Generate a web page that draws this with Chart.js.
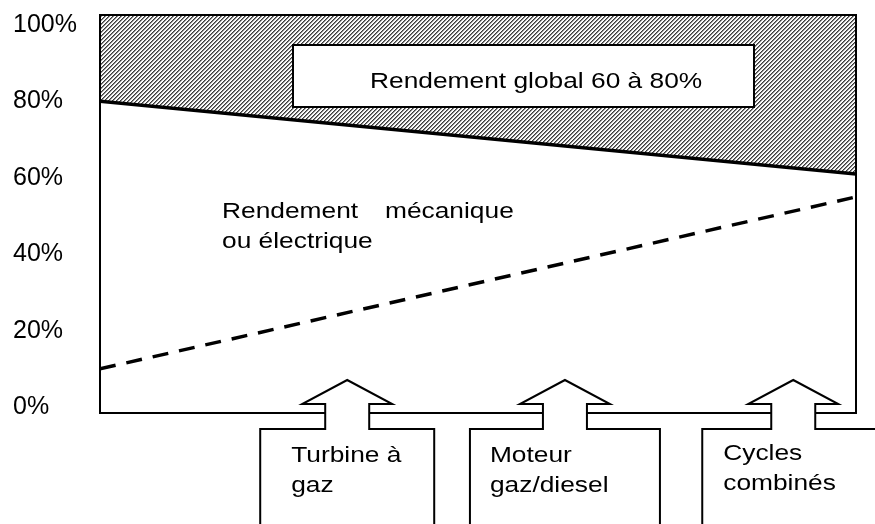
<!DOCTYPE html>
<html>
<head>
<meta charset="utf-8">
<script src="https://cdn.jsdelivr.net/npm/chart.js@4/dist/chart.umd.min.js"></script>
<style>
  html, body { margin: 0; padding: 0; background: #fff; }
  canvas { display: block; }
</style>
</head>
<body>
<canvas id="rendement" width="875" height="524"></canvas>
<script>
// Données
const xRange = [0, 100];                 // début / fin de l'axe horizontal
const rendementGlobal = [80, 61];        // ligne pleine (%)
const rendementMeca = [10, 55];          // ligne pointillée (%)
const yTicks = [0, 20, 40, 60, 80, 100];
const technoLabels = [['Turbine à', 'gaz'], ['Moteur', 'gaz/diesel'], ['Cycles', 'combinés']];
const technoPositions = [32.7, 61.5, 91.7];
const boxTitle = 'Rendement global 60 à 80%';
const mecaLabel = [['Rendement', 'mécanique'], ['ou électrique']];

const FONT = '"Liberation Sans", Arial, sans-serif';

// motif hachuré ////
function hatchPattern(ctx) {
    let n = 4;
    let c = document.createElement('canvas');
    c.width = n; c.height = n;
    let g = c.getContext('2d');
    let img = g.createImageData(n, n);
    const shades = [60, 135, 245, 255];
    for (let py = 0; py < n; py++) {
        for (let px = 0; px < n; px++) {
            let v = shades[(px + py) % n];
            let i = (py * n + px) * 4;
            img.data[i] = v; img.data[i + 1] = v; img.data[i + 2] = v; img.data[i + 3] = 255;
        }
    }
    g.putImageData(img, 0, 0);
    return ctx.createPattern(c, 'repeat');
}

function stretchText(ctx, s, px, py) {
    ctx.save();
    ctx.translate(px, py);
    ctx.scale(1.17, 1);
    ctx.fillText(s, 0, 0);
    ctx.restore();
}

const decorations = {
    id: 'decorations',
    afterDatasetsDraw(chart) {
        const { ctx, chartArea: a, scales: { x } } = chart;
        ctx.save();
        ctx.strokeStyle = '#000';
        ctx.fillStyle = '#000';
        ctx.lineWidth = 2;
        ctx.lineJoin = 'miter';
        ctx.strokeRect(a.left, a.top, a.width, a.height);

        // cadre "Rendement global"
        ctx.fillStyle = '#fff';
        ctx.fillRect(293, 45, 461, 62);
        ctx.strokeRect(293, 45, 461, 62);
        ctx.fillStyle = '#000';
        ctx.font = '22.5px ' + FONT;
        ctx.textBaseline = 'alphabetic';
        stretchText(ctx, boxTitle, 370, 88);

        // texte rendement mécanique
        stretchText(ctx, mecaLabel[0][0], 222, 218);
        stretchText(ctx, mecaLabel[0][1], 385, 218);
        stretchText(ctx, mecaLabel[1][0], 222, 248);

        // flèches et cadres du bas
        const boxLeft = [87, 95, 91];
        const boxRight = [87, 95, 200];
        const textOff = [31, 20, 21];
        const base = [462, 462, 460];
        technoPositions.forEach((v, i) => {
            const cx = x.getPixelForValue(v);
            const b = a.bottom;
            ctx.beginPath();
            ctx.moveTo(cx - boxLeft[i], 540);
            ctx.lineTo(cx - boxLeft[i], b + 16);
            ctx.lineTo(cx - 22, b + 16);
            ctx.lineTo(cx - 22, b - 9);
            ctx.lineTo(cx - 45, b - 9);
            ctx.lineTo(cx, b - 33);
            ctx.lineTo(cx + 45, b - 9);
            ctx.lineTo(cx + 22, b - 9);
            ctx.lineTo(cx + 22, b + 16);
            ctx.lineTo(cx + boxRight[i], b + 16);
            ctx.lineTo(cx + boxRight[i], 540);
            ctx.fillStyle = '#fff';
            ctx.fill();
            ctx.stroke();
            ctx.fillStyle = '#000';
            const tx = cx - boxLeft[i] + textOff[i];
            stretchText(ctx, technoLabels[i][0], tx, base[i]);
            stretchText(ctx, technoLabels[i][1], tx, base[i] + 30);
        });
        ctx.restore();
    }
};

let canvas = document.getElementById('rendement');
let ctx = canvas.getContext('2d');

new Chart(ctx, {
    type: 'line',
    data: {
        datasets: [{
            label: 'Rendement global',
            data: rendementGlobal.map((v, i) => ({ x: xRange[i], y: v })),
            borderColor: '#000',
            borderWidth: 3.5,
            pointRadius: 0,
            fill: 'end',
            backgroundColor: hatchPattern(ctx)
        }, {
            label: 'Rendement mécanique ou électrique',
            data: rendementMeca.map((v, i) => ({ x: xRange[i], y: v })),
            borderColor: '#000',
            borderWidth: 3.5,
            borderDash: [16, 11],
            pointRadius: 0,
            fill: false
        }]
    },
    options: {
        responsive: false,
        animation: false,
        devicePixelRatio: 1,
        layout: { padding: { left: 13, top: 11, right: 19, bottom: 111 } },
        plugins: {
            legend: { display: false },
            tooltip: { enabled: false }
        },
        scales: {
            x: {
                type: 'linear',
                min: xRange[0],
                max: xRange[1],
                display: false
            },
            y: {
                type: 'linear',
                min: -1.55,
                max: 102.6,
                afterBuildTicks: s => { s.ticks = yTicks.map(v => ({ value: v })); },
                afterFit: s => { s.width = 87; },
                grid: { display: false },
                border: { display: false },
                ticks: {
                    callback: v => v + '%',
                    color: '#000',
                    crossAlign: 'far',
                    padding: 0,
                    font: { family: FONT, size: 25 }
                }
            }
        }
    },
    plugins: [decorations]
});
</script>
</body>
</html>
